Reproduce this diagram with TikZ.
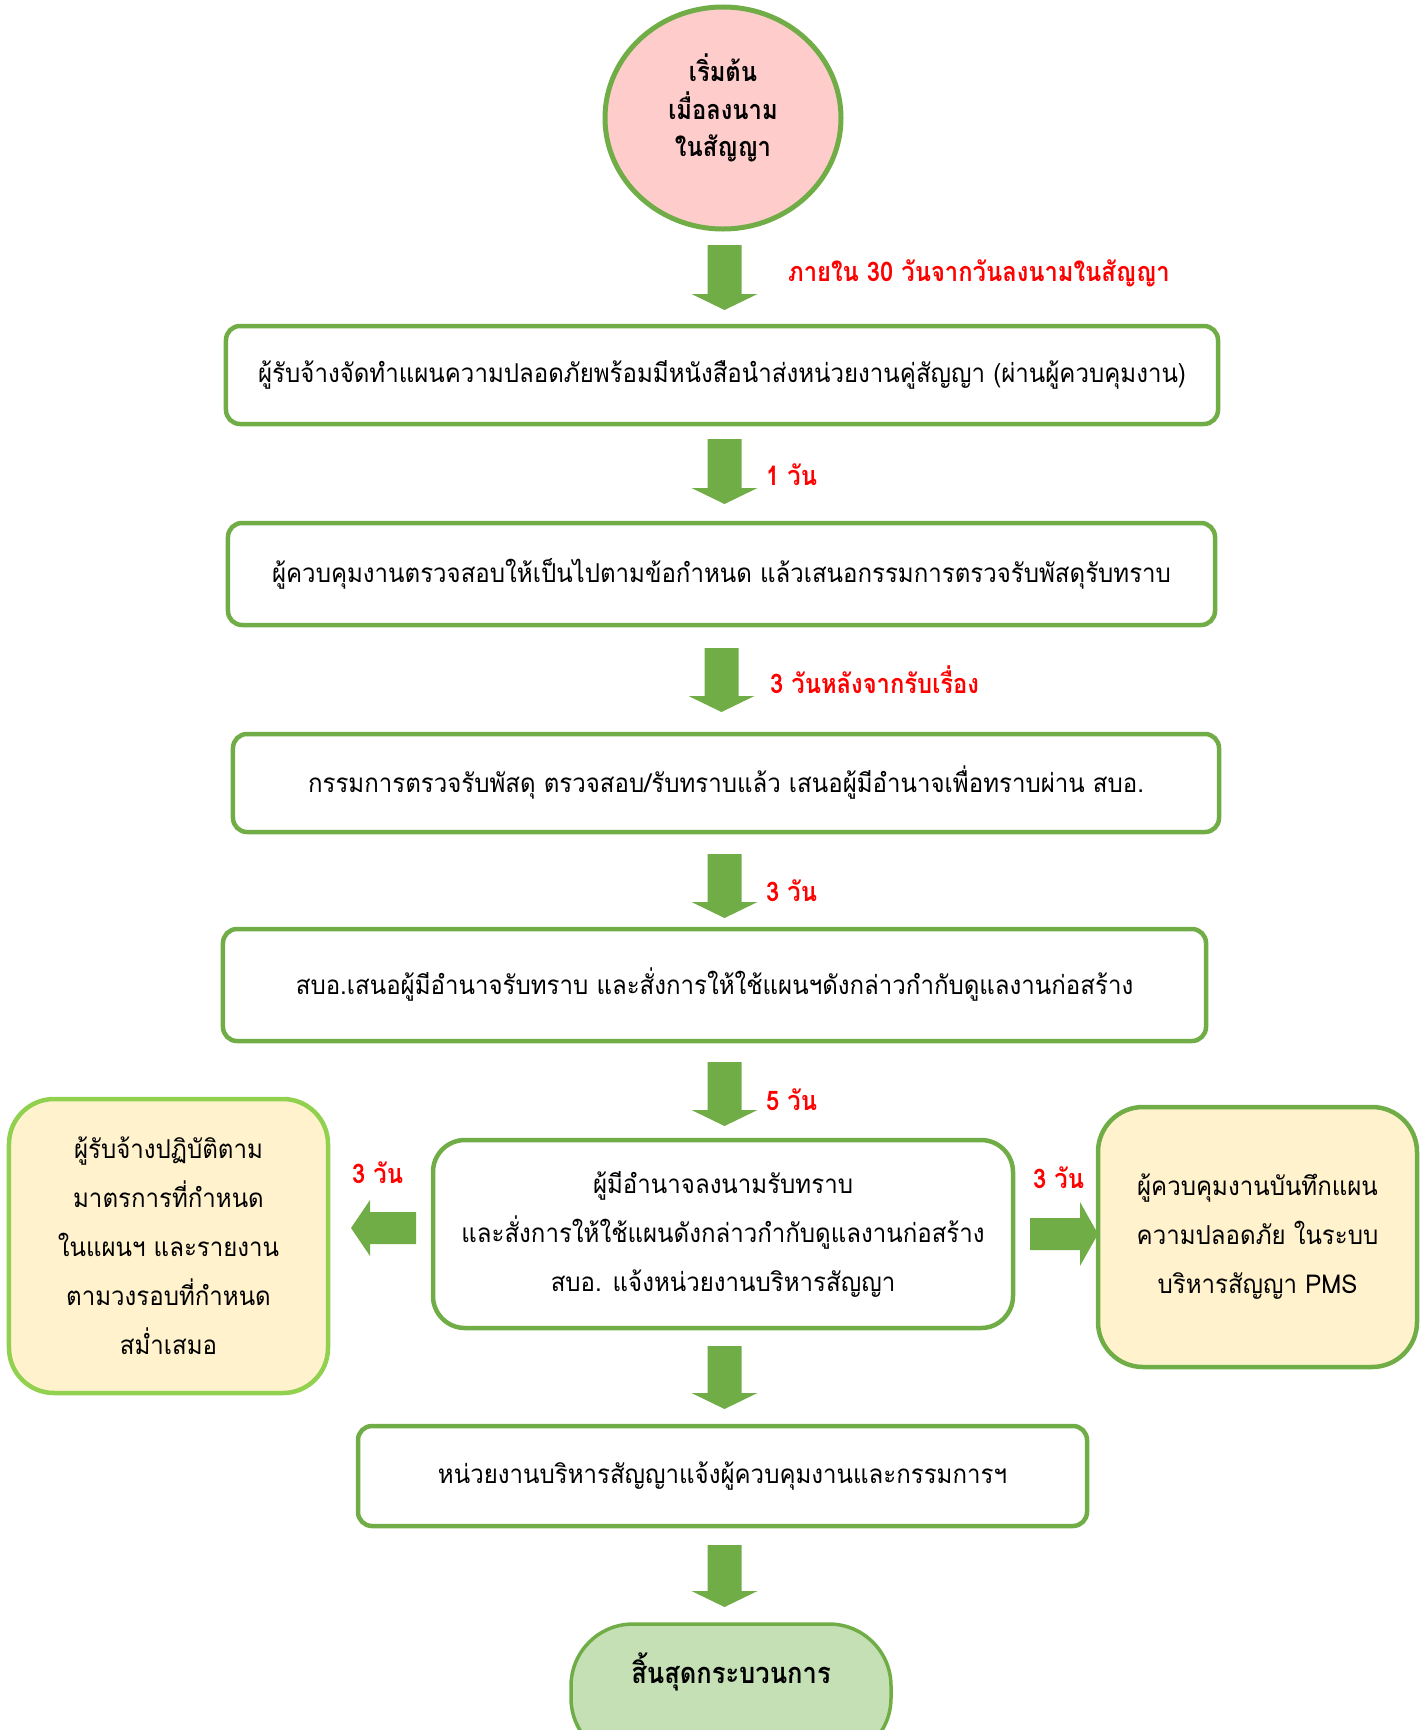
\documentclass[tikz,border=0pt]{standalone}
\usepackage{fontspec}
\usetikzlibrary{shapes.geometric}
\newfontfamily\thai[Script=Thai,FakeStretch=0.925]{Loma}
\newfontfamily\thaihead[Script=Thai,FakeStretch=0.88]{Loma}
\definecolor{grn}{HTML}{70AD47}
\definecolor{lgrn}{HTML}{92D050}
\definecolor{pinkfill}{HTML}{FFCCCC}
\definecolor{cream}{HTML}{FFF2CC}
\definecolor{sage}{HTML}{C5E0B4}
\definecolor{redlbl}{HTML}{FF0000}

% vertical block arrow: centre x, top y, tip y
\newcommand\downblk[3]{%
  \fill[grn] (#1-17,#2) -- (#1+17,#2) -- (#1+17,#3-16) -- (#1+33,#3-16)
    -- (#1,#3) -- (#1-33,#3-16) -- (#1-17,#3-16) -- cycle;}

\tikzset{
  body/.style={font=\thai\fontsize{26bp}{49bp}\selectfont},
  stepbox/.style={draw=grn, line width=4.5bp, rounded corners=14bp, fill=white,
    align=center, inner sep=0pt, body},
  sidebox/.style={line width=4.5bp, rounded corners=45bp, fill=cream,
    align=center, inner sep=0pt, body},
  daylbl/.style={anchor=west, text=redlbl, inner sep=0pt,
    font=\thaihead\bfseries\fontsize{27bp}{32bp}\selectfont},
}

\begin{document}
\begin{tikzpicture}[x=1bp,y=-1bp]
\useasboundingbox (0,0) rectangle (1427,1730);

% start
\node[ellipse, draw=grn, line width=5bp, fill=pinkfill, minimum width=236bp,
  minimum height=222bp, inner sep=0pt] (start) at (723,118) {};
\node[align=center, inner sep=0pt,
  font=\thaihead\bfseries\fontsize{27bp}{37.5bp}\selectfont] (starttxt) at (723,108)
  {เริ่มต้น\\เมื่อลงนาม\\ในสัญญา};

% main steps
\node[stepbox, minimum width=992bp, minimum height=98bp] (b1) at (722,375)
  {ผู้รับจ้างจัดทำแผนความปลอดภัยพร้อมมีหนังสือนำส่งหน่วยงานคู่สัญญา (ผ่านผู้ควบคุมงาน)};
\node[stepbox, minimum width=987bp, minimum height=102bp] (b2) at (721.5,574)
  {ผู้ควบคุมงานตรวจสอบให้เป็นไปตามข้อกำหนด แล้วเสนอกรรมการตรวจรับพัสดุรับทราบ};
\node[stepbox, minimum width=986bp, minimum height=98bp] (b3) at (726,783)
  {กรรมการตรวจรับพัสดุ ตรวจสอบ/รับทราบแล้ว เสนอผู้มีอำนาจเพื่อทราบผ่าน สบอ.};
\node[stepbox, minimum width=983bp, minimum height=112bp] (b4) at (714.5,985)
  {สบอ.เสนอผู้มีอำนาจรับทราบ และสั่งการให้ใช้แผนฯดังกล่าวกำกับดูแลงานก่อสร้าง};
\node[stepbox, rounded corners=32bp, minimum width=580bp, minimum height=188bp] (b5) at (723,1234)
  {ผู้มีอำนาจลงนามรับทราบ\\และสั่งการให้ใช้แผนดังกล่าวกำกับดูแลงานก่อสร้าง\\สบอ. แจ้งหน่วยงานบริหารสัญญา};
\node[stepbox, minimum width=729bp, minimum height=100bp] (b6) at (722.5,1476)
  {หน่วยงานบริหารสัญญาแจ้งผู้ควบคุมงานและกรรมการฯ};

% side boxes
\node[sidebox, draw=lgrn, minimum width=319bp, minimum height=294bp] (left) at (168.5,1246)
  {ผู้รับจ้างปฏิบัติตาม\\มาตรการที่กำหนด\\ในแผนฯ และรายงาน\\ตามวงรอบที่กำหนด\\สม่ำเสมอ};
\node[sidebox, draw=grn, minimum width=319bp, minimum height=260bp] (right) at (1257.5,1237)
  {ผู้ควบคุมงานบันทึกแผน\\ความปลอดภัย ในระบบ\\บริหารสัญญา PMS};

% end
\node[draw=grn, line width=3.5bp, fill=sage, rounded corners=62bp,
  minimum width=320bp, minimum height=136bp, inner sep=0pt] (finish) at (731,1692) {};
\node[font=\thaihead\bfseries\fontsize{29bp}{34bp}\selectfont, inner sep=0pt] (finishtxt) at (731,1672)
  {สิ้นสุดกระบวนการ};

% flow arrows
\downblk{724.5}{245}{310}
\downblk{724.5}{439}{504}
\downblk{721.5}{648}{712}
\downblk{724.5}{854}{918}
\downblk{724.5}{1062}{1126}
\downblk{724.5}{1346}{1409}
\downblk{724.5}{1545}{1607}

% side arrows
\fill[grn] (416,1212) -- (370,1212) -- (370,1200) -- (351,1228) -- (370,1256)
  -- (370,1244) -- (416,1244) -- cycle;
\fill[grn] (1030,1218) -- (1080,1218) -- (1080,1202) -- (1098,1234) -- (1080,1266)
  -- (1080,1250) -- (1030,1250) -- cycle;

% time labels
\node[daylbl] (l1) at (788,273) {ภายใน 30 วันจากวันลงนามในสัญญา};
\node[daylbl] (l2) at (766,475) {1 วัน};
\node[daylbl] (l3) at (770,680) {3 วันหลังจากรับเรื่อง};
\node[daylbl] (l4) at (766,891) {3 วัน};
\node[daylbl] (l5) at (766,1100) {5 วัน};
\node[daylbl] (l6) at (352,1173) {3 วัน};
\node[daylbl] (l7) at (1033,1178) {3 วัน};
\end{tikzpicture}
\end{document}
